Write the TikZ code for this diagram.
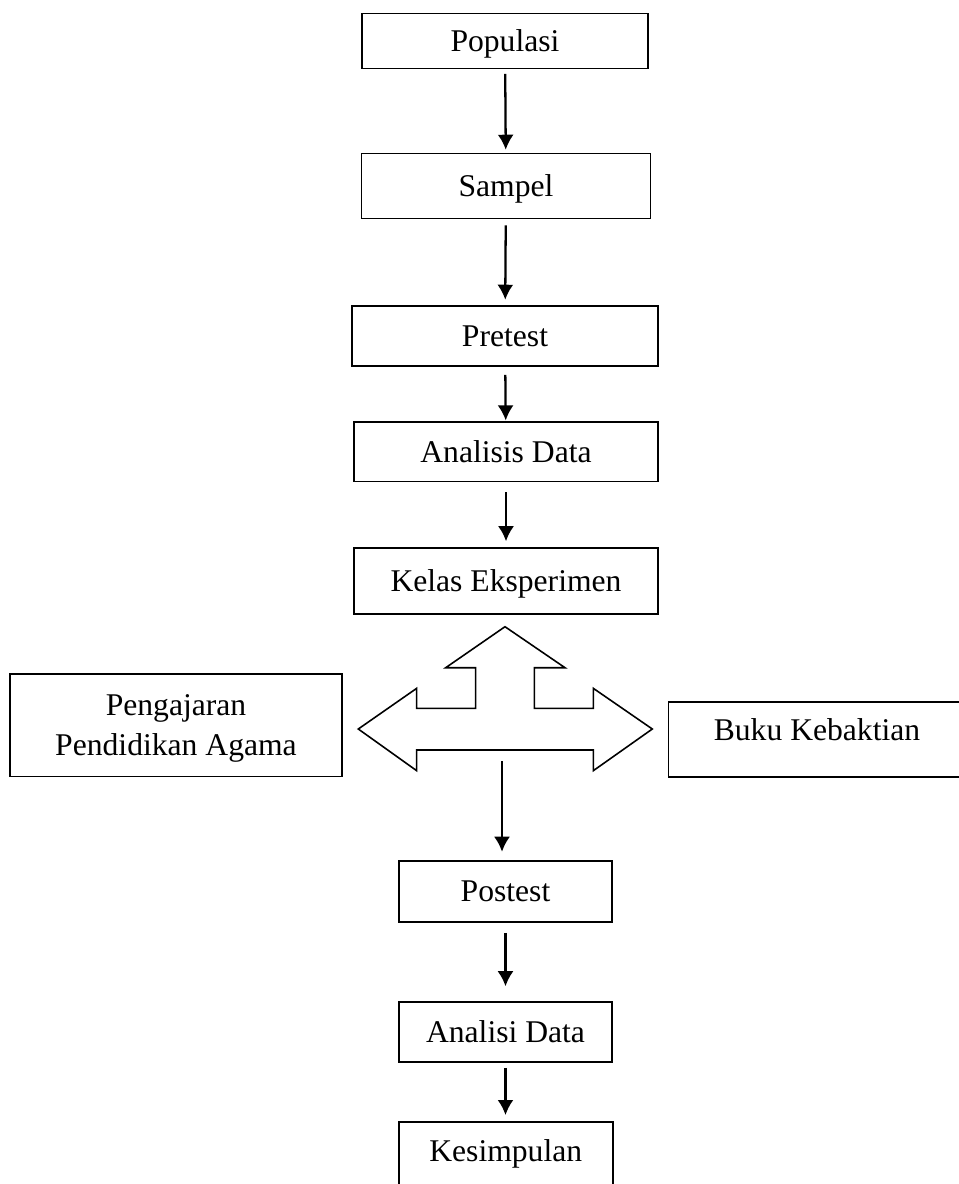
\documentclass[tikz,border=0pt]{standalone}
\usepackage{fontspec}
\setmainfont{Liberation Serif}
\usepackage{tikz}
\usetikzlibrary{arrows.meta,positioning}

\begin{document}
\begin{tikzpicture}[x=0.02cm, y=-0.02cm,
    block/.style={rectangle, draw, line width=0.9pt, inner sep=0pt, text depth=0pt, align=center, font=\fontsize{18}{22.8}\selectfont},
    arrow/.style={-{Latex[length=3mm, width=3.2mm]}, line width=1.3pt},
    bigarrow/.style={draw, line width=0.9pt, line join=miter}
]
\useasboundingbox (0,0) rectangle (959,1184);
% main column
\node[block, minimum width=5.72cm, minimum height=1.1cm]  (pop)  at (505,41)    {Populasi};
\node[block, minimum width=5.78cm, minimum height=1.3cm]  (sam)  at (506,186)   {Sampel};
\node[block, minimum width=6.12cm, minimum height=1.2cm]  (pre)  at (505,336)   {Pretest};
\node[block, minimum width=6.08cm, minimum height=1.2cm]  (ana)  at (506,451.7) {Analisis Data};
\node[block, minimum width=6.08cm, minimum height=1.32cm] (kel)  at (506,581)   {Kelas Eksperimen};
\node[block, minimum width=6.64cm, minimum height=2.05cm] (ajar) at (176,725.3) {Pengajaran\\Pendidikan Agama};
\node[block, anchor=north west, minimum width=5.95cm, text height=0.78cm, text depth=0.73cm] (buku) at (667.5,701) {Buku Kebaktian};
\node[block, minimum width=4.26cm, minimum height=1.22cm] (post) at (505.5,891.5) {Postest};
\node[block, minimum width=4.26cm, minimum height=1.2cm]  (anl)  at (505.5,1032)  {Analisi Data};
\node[block, anchor=north west, minimum width=4.28cm, text height=0.8cm, text depth=0.6cm] (kes) at (398,1121) {Kesimpulan};

% three-way block arrow
\draw[bigarrow] (358.3,729) -- (416.7,688.3) -- (416.7,708.3) -- (475.7,708.3) -- (475.7,667.7)
    -- (445.7,667.7) -- (505,626.7) -- (565,667.7) -- (534.3,667.7) -- (534.3,708.3)
    -- (593.3,708.3) -- (593.3,688.3) -- (652.3,729) -- (593.3,770.7) -- (593.3,750)
    -- (416.7,750) -- (416.7,770.7) -- cycle;
\coordinate (split) at (502,761);

\draw[arrow, shorten <=0.09cm, shorten >=0.06cm] (pop) -- (sam);
\draw[arrow, shorten <=0.12cm, shorten >=0.11cm] (sam) -- (pre);
\draw[arrow, shorten <=0.16cm, shorten >=0.01cm] (pre) -- (ana);
\draw[arrow, shorten <=0.2cm, shorten >=0.12cm]  (ana) -- (kel);
\draw[arrow, shorten >=0.17cm] (split) -- (split |- post.north);
\draw[arrow, shorten <=0.2cm, shorten >=0.3cm]   (post) -- (anl);
\draw[arrow, shorten <=0.1cm, shorten >=0.12cm]  (anl) -- (anl |- kes.north);
\end{tikzpicture}
\end{document}
